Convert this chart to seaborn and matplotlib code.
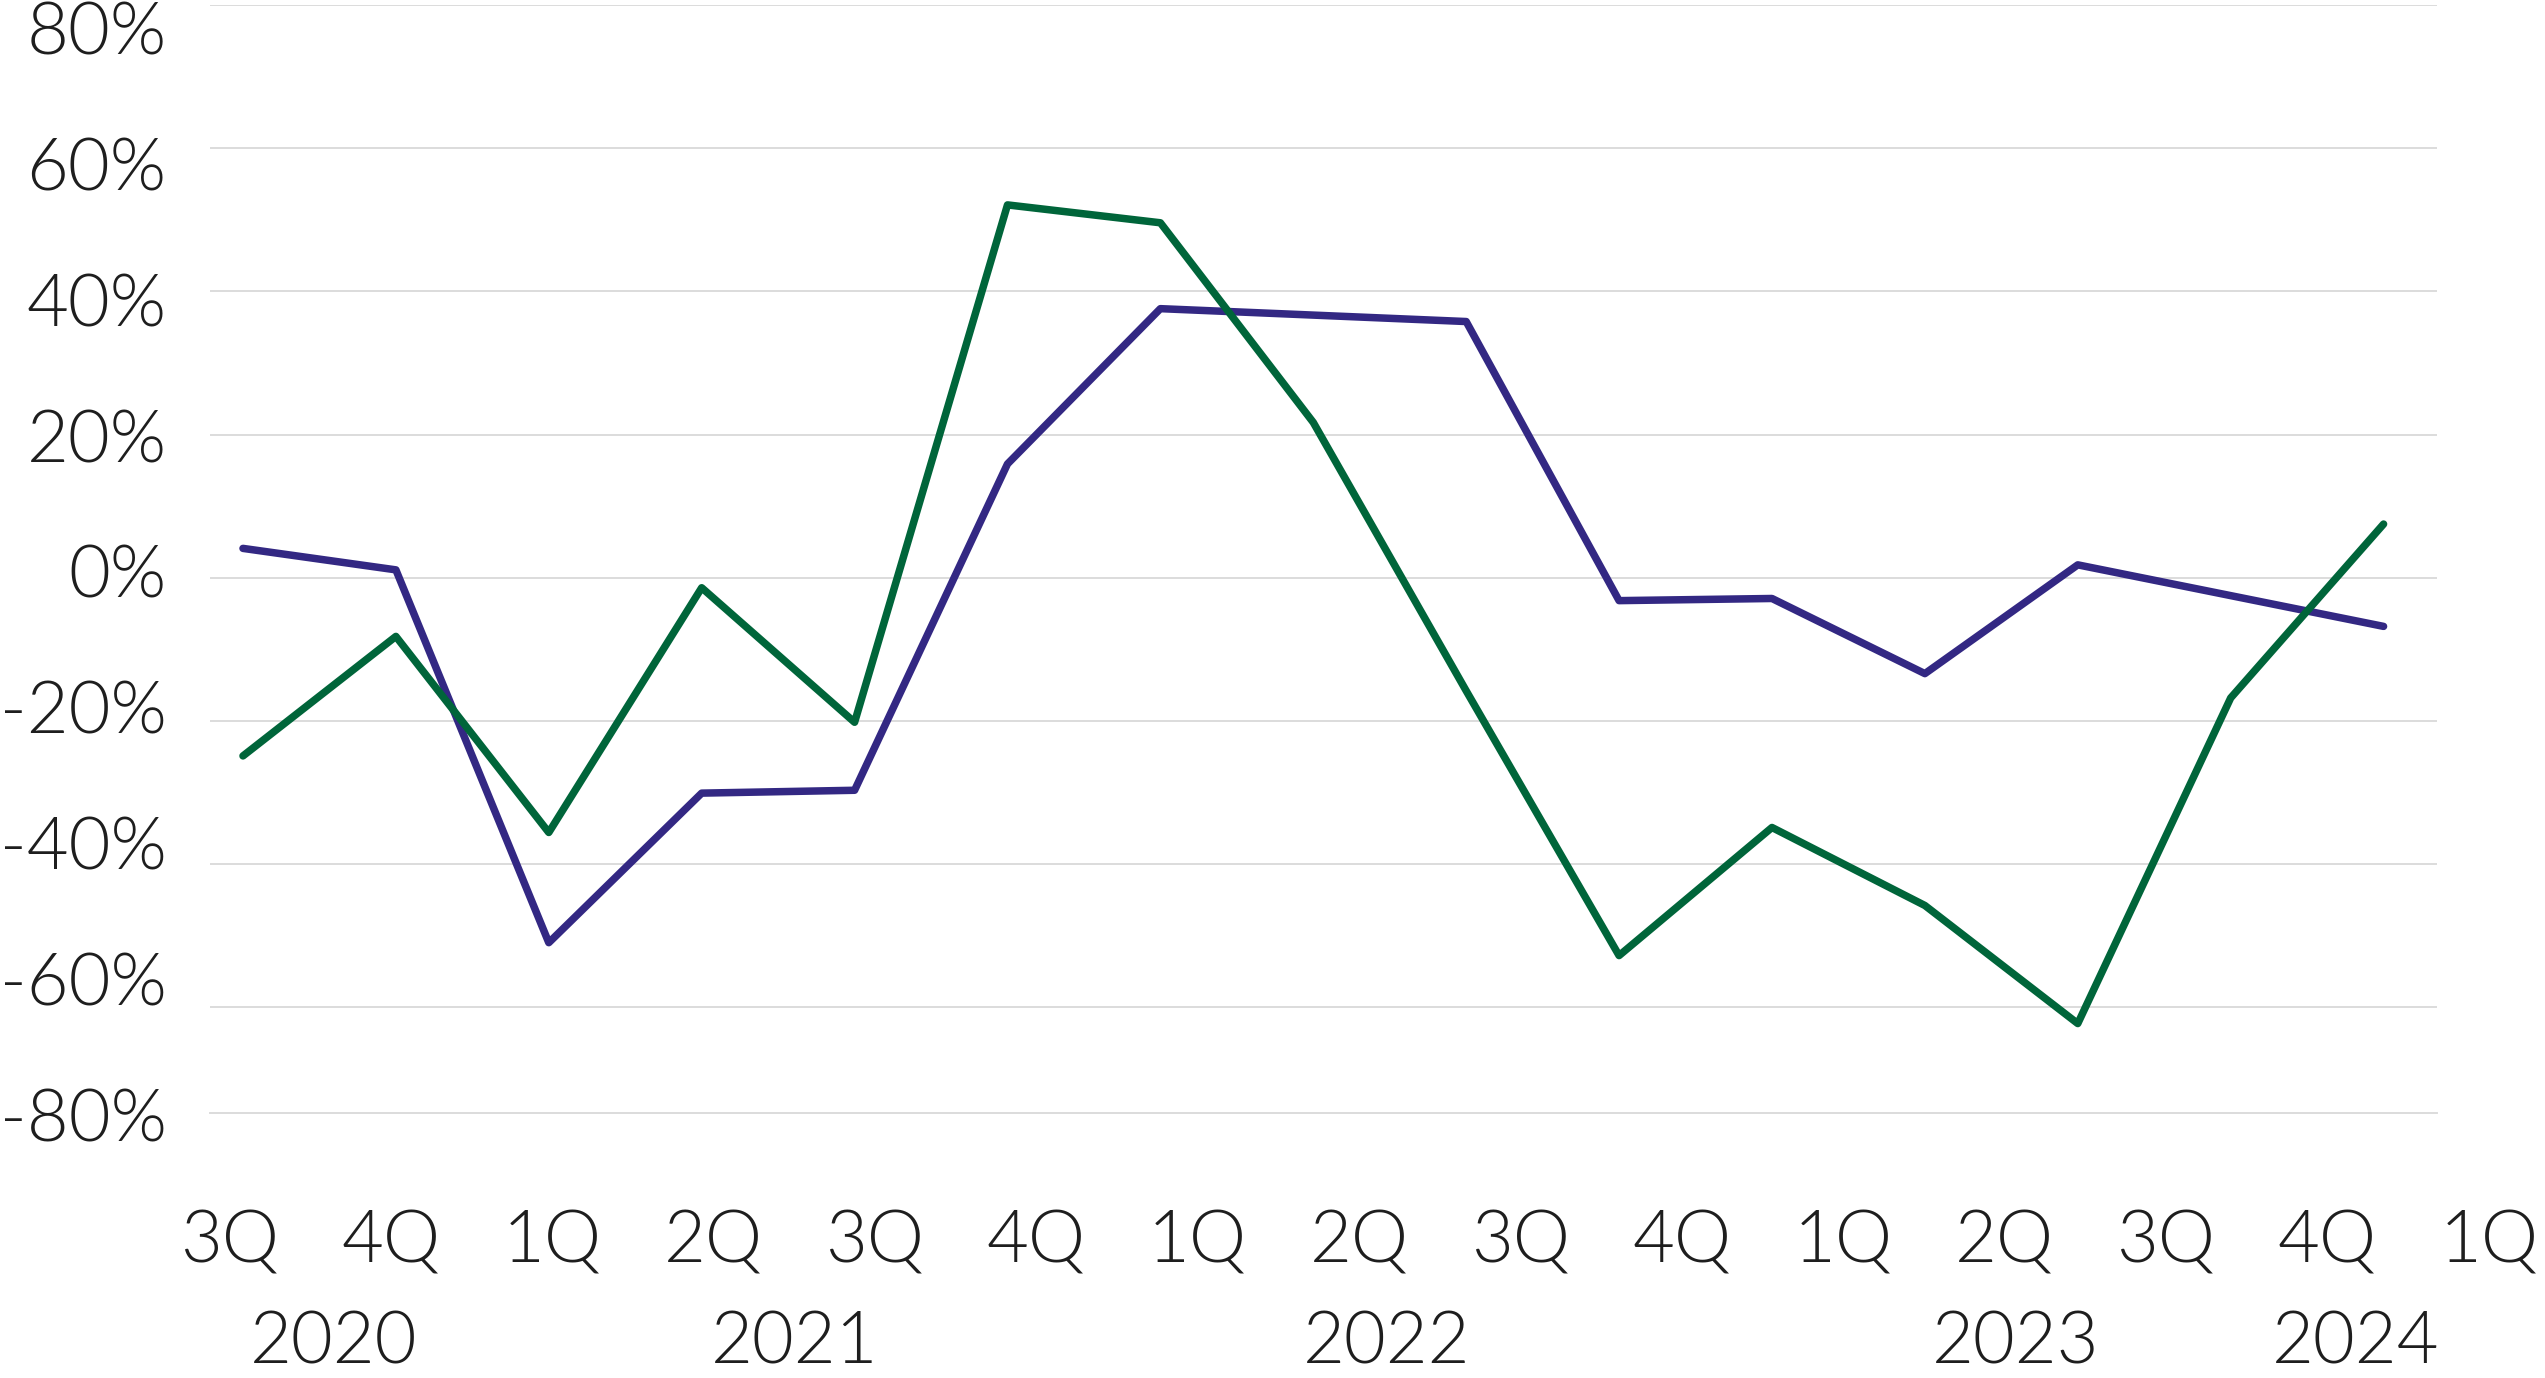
import numpy as np
import pandas as pd
import matplotlib
matplotlib.use("Agg")
import matplotlib.pyplot as plt
import matplotlib.transforms as mtransforms
import seaborn as sns

# Quarterly values (%), 3Q 2020 through 1Q 2024
quarters = ["3Q", "4Q", "1Q", "2Q", "3Q", "4Q", "1Q", "2Q", "3Q", "4Q", "1Q", "2Q", "3Q", "4Q", "1Q"]
purple_vals = [4.1, 1.1, -51.0, -30.1, -29.7, 15.9, 37.6, 36.7, 35.8, -3.2, -2.9, -13.4, 1.8, -2.5, -6.8]
green_vals = [-24.9, -8.2, -35.6, -1.4, -20.2, 52.1, 49.6, 21.7, -15.8, -52.8, -34.9, -45.8, -62.3, -16.8, 7.5]
years = ["2020", "2021", "2022", "2023", "2024"]
year_pos = [0.59, 3.61, 7.48, 11.59, 13.82]
y_ticks = [80, 60, 40, 20, 0, -20, -40, -60, -80]

df = pd.DataFrame({
    "idx": list(range(len(quarters))) * 2,
    "value": purple_vals + green_vals,
    "series": ["purple"] * len(quarters) + ["green"] * len(quarters),
})

sns.set_style("white")
plt.rcParams["font.family"] = ["Lato", "DejaVu Sans"]

fig = plt.figure(figsize=(25.45, 13.78), dpi=100)
ax = fig.add_axes([0.0825, 0.1923, 0.8751, 0.8039])

sns.lineplot(data=df, x="idx", y="value", hue="series",
             palette={"purple": "#332883", "green": "#00653A"},
             linewidth=5.4, legend=False, ax=ax, solid_capstyle="round")

ax.set_xlim(-0.216, 14.35)
ax.set_ylim(-74.8, 80)
ax.set_yticks(y_ticks[:-1])
ax.yaxis.grid(True, color="#dcdcdc", linewidth=1.4)
ax.set_axisbelow(True)
ax.set_xticks([])
ax.set_yticklabels([])
ax.tick_params(length=0)
for s in ax.spines.values():
    s.set_visible(False)
# bottom edge drawn like a gridline
ax.spines["bottom"].set_visible(True)
ax.spines["bottom"].set_color("#dcdcdc")
ax.spines["bottom"].set_linewidth(1.4)
ax.set_xlabel("")
ax.set_ylabel("")

txt = dict(fontsize=52, color="#1e1e1e", fontweight=300)

# y labels, slightly compressed relative to gridlines as in the original
trans_y = mtransforms.blended_transform_factory(fig.transFigure, ax.transData)
for v in y_ticks:
    ax.text(0.0655, v * 0.95, f"{v}%", transform=trans_y, ha="right", va="center",
            clip_on=False, **txt)

# quarter labels and year labels
trans_x = mtransforms.blended_transform_factory(ax.transData, fig.transFigure)
for i, q in enumerate(quarters):
    ax.text(i * 1.0556 - 0.09, 1 - 1242 / 1378, q, transform=trans_x, ha="center",
            va="center", clip_on=False, **txt)
for yp, yr in zip(year_pos, years):
    ax.text(yp, 1 - 1376 / 1378, yr, transform=trans_x, ha="center", va="bottom",
            clip_on=False, **txt)

fig.savefig("out.png", dpi=100)
